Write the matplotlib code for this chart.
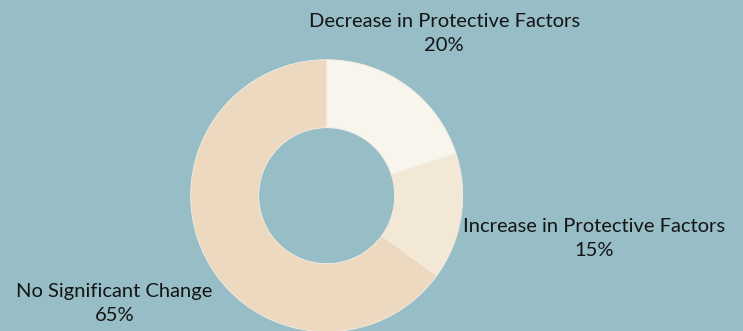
import numpy as np
import matplotlib.pyplot as plt

# Share of respondents by change in protective factors
categories = ["Decrease in Protective Factors", "Increase in Protective Factors", "No Significant Change"]
shares = [20, 15, 65]
colors = ["#F8F5ED", "#F3E7D6", "#EDD9BF"]
label_dist = [1.47, 1.99, 1.75]

BACKGROUND = "#97BEC7"
W, H, DPI = 743, 331, 100
CX, CY, R = 326.7, 195.7, 136.0   # donut centre / radius in pixels (from top-left)

fig = plt.figure(figsize=(W / DPI, H / DPI), dpi=DPI)
fig.patch.set_facecolor(BACKGROUND)
ax = fig.add_axes([0, 0, 1, 1])
ax.set_facecolor(BACKGROUND)

wedges, _ = ax.pie(
    shares,
    colors=colors,
    startangle=90,
    counterclock=False,
    radius=1.0,
    wedgeprops=dict(width=0.5, edgecolor="#F6EEE2", linewidth=0.6),
)

# -------------------------------------------------
# Outside labels at each wedge's mid-angle
# -------------------------------------------------
for w, name, val, d in zip(wedges, categories, shares, label_dist):
    ang = np.deg2rad((w.theta1 + w.theta2) / 2)
    ax.text(
        d * np.cos(ang), d * np.sin(ang),
        f"{name}\n{val}%",
        ha="center", va="center",
        fontsize=14.5, family="Lato", color="#141414",
        linespacing=1.5,
    )

ax.set_aspect("auto")
ax.set_xlim(-CX / R, (W - CX) / R)
ax.set_ylim(-(H - CY) / R, CY / R)
ax.axis("off")

fig.savefig("out.png", dpi=DPI, facecolor=fig.get_facecolor())
